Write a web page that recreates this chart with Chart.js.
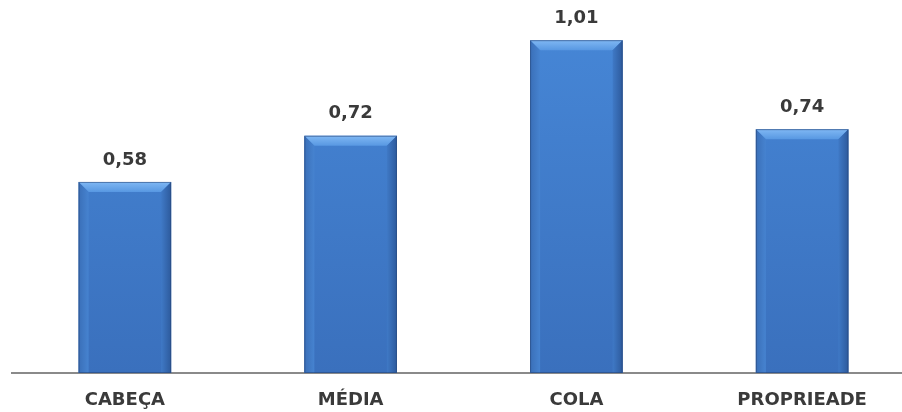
<!DOCTYPE html>
<html>
<head>
<meta charset="utf-8">
<script src="https://cdn.jsdelivr.net/npm/chart.js@4"></script>
<style>
  html, body { margin: 0; padding: 0; background: #fff; overflow: hidden; }
  #wrap { width: 915px; height: 412px; }
</style>
</head>
<body>
<div id="wrap"><canvas id="chart"></canvas></div>
<script>
// --- data ---
const categories = ['CABEÇA', 'MÉDIA', 'COLA', 'PROPRIEADE'];
const values = [0.58, 0.72, 1.01, 0.74];
const valueLabels = ['0,58', '0,72', '1,01', '0,74'];

const labelFont = { family: 'DejaVu Sans', size: 18, weight: 'bold' };
const textColor = '#3a3a3a';

// bevel look for the bars + value labels above them
const bevelPlugin = {
  id: 'bevel',
  afterDatasetsDraw(chart) {
    const ctx = chart.ctx;
    const meta = chart.getDatasetMeta(0);
    meta.data.forEach((bar, i) => {
      const w = bar.width, l = bar.x - w / 2, r = bar.x + w / 2;
      const t = bar.y, b = bar.base, e = 10;
      ctx.save();
      // top bevel
      let g = ctx.createLinearGradient(0, t, 0, t + e);
      g.addColorStop(0, '#80b8f4');
      g.addColorStop(1, '#5898e2');
      ctx.fillStyle = g;
      ctx.beginPath();
      ctx.moveTo(l, t); ctx.lineTo(r, t); ctx.lineTo(r - e, t + e); ctx.lineTo(l + e, t + e);
      ctx.closePath(); ctx.fill();
      // left side
      g = ctx.createLinearGradient(l, 0, l + e, 0);
      g.addColorStop(0, '#3a6fb8');
      g.addColorStop(1, '#4683d0');
      ctx.fillStyle = g;
      ctx.beginPath();
      ctx.moveTo(l, t); ctx.lineTo(l + e, t + e); ctx.lineTo(l + e, b); ctx.lineTo(l, b);
      ctx.closePath(); ctx.fill();
      // right side
      g = ctx.createLinearGradient(r - e, 0, r, 0);
      g.addColorStop(0, '#3f79c6');
      g.addColorStop(1, '#2d5a9c');
      ctx.fillStyle = g;
      ctx.beginPath();
      ctx.moveTo(r, t); ctx.lineTo(r - e, t + e); ctx.lineTo(r - e, b); ctx.lineTo(r, b);
      ctx.closePath(); ctx.fill();
      // outline
      ctx.strokeStyle = 'rgba(40,70,120,0.6)';
      ctx.lineWidth = 1;
      ctx.strokeRect(l + 0.5, t + 0.5, w - 1, b - t - 1);
      // value label
      ctx.fillStyle = textColor;
      ctx.font = `${labelFont.weight} ${labelFont.size}px ${labelFont.family}`;
      ctx.textAlign = 'center';
      ctx.textBaseline = 'middle';
      ctx.fillText(valueLabels[i], bar.x, t - 22);
      ctx.restore();
    });
  }
};

new Chart(document.getElementById('chart'), {
  type: 'bar',
  data: {
    labels: categories,
    datasets: [{
      data: values,
      backgroundColor: (c) => {
        const { ctx, chartArea } = c.chart;
        if (!chartArea) return '#3f7bcc';
        const g = ctx.createLinearGradient(0, chartArea.top, 0, chartArea.bottom);
        g.addColorStop(0, '#4788d8');
        g.addColorStop(1, '#3a70bd');
        return g;
      },
      borderWidth: 0,
      barPercentage: 0.41,
      categoryPercentage: 1
    }]
  },
  options: {
    responsive: true,
    maintainAspectRatio: false,
    animation: false,
    layout: { padding: { left: 12, right: 0, top: 0, bottom: 0 } },
    plugins: { legend: { display: false }, tooltip: { enabled: false } },
    scales: {
      x: {
        grid: { display: false, drawTicks: false },
        border: { display: true, color: '#8a8a8a', width: 2 },
        ticks: { color: textColor, font: labelFont, padding: 17 },
        afterFit: (scale) => { scale.height = 39; }
      },
      y: {
        display: false,
        min: 0,
        max: 1.132
      }
    }
  },
  plugins: [bevelPlugin]
});
</script>
</body>
</html>
